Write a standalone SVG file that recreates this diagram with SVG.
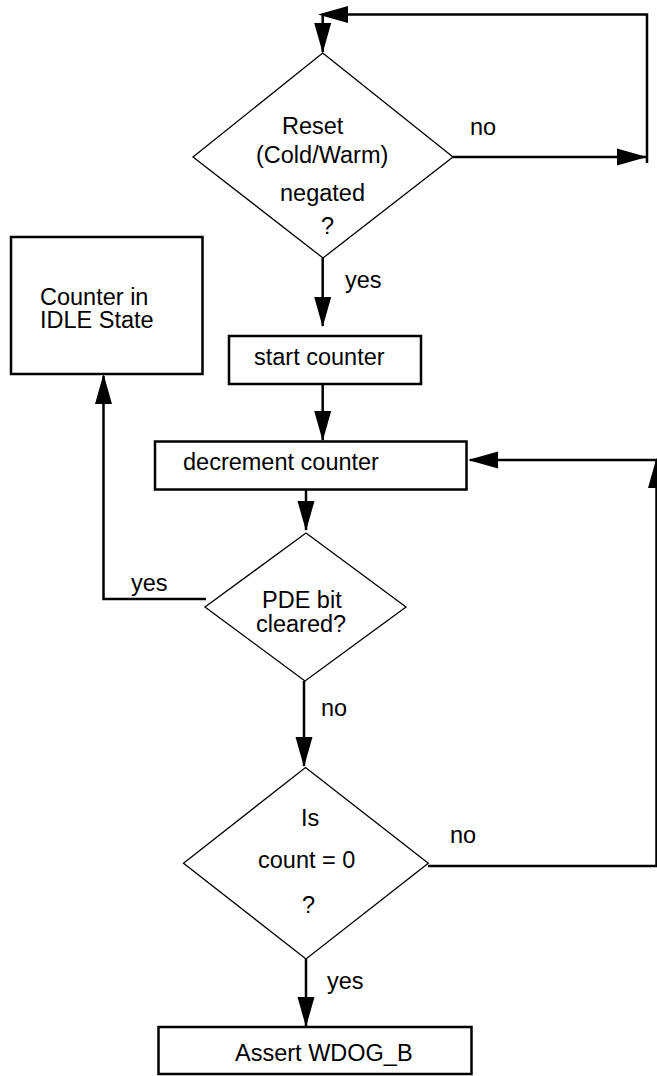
<svg xmlns="http://www.w3.org/2000/svg" width="657" height="1076" viewBox="0 0 657 1076">
  <style>
    text { font-family: "Liberation Sans", Arial, sans-serif; font-size: 23.5px; fill: #000; }
    .box { fill: #fff; stroke: #000; stroke-width: 2.5; }
    .dia { fill: #fff; stroke: #000; stroke-width: 1.3; }
    .wire { fill: none; stroke: #000; stroke-width: 2.5; }
    .head { fill: #000; stroke: none; }
  </style>
  <defs>
    <!-- filled arrowhead pointing along +x, tip at origin -->
    <polygon id="ah" class="head" points="0,0 -30,-8.5 -30,8.5"/>
  </defs>
  <rect width="657" height="1076" fill="#fff"/>

  <!-- connectors -->
  <g id="connectors">
    <!-- reset not negated: loop back to the top -->
    <polyline class="wire" points="453,157 647,157"/>
    <use href="#ah" transform="translate(647,157)"/>
    <polyline class="wire" points="647,163 647,14.5 322,14.5"/>
    <use href="#ah" transform="translate(318,14.5) rotate(180)"/>
    <polyline class="wire" points="322.7,14.5 322.7,52"/>
    <use href="#ah" transform="translate(322.7,53) rotate(90)"/>

    <!-- yes: start counter -->
    <polyline class="wire" points="322.7,258 322.7,326"/>
    <use href="#ah" transform="translate(322.7,327) rotate(90)"/>

    <!-- start counter to decrement -->
    <polyline class="wire" points="322.7,384 322.7,440"/>
    <use href="#ah" transform="translate(322.7,441) rotate(90)"/>

    <!-- decrement to PDE check -->
    <polyline class="wire" points="306,489 306,530"/>
    <use href="#ah" transform="translate(306,531) rotate(90)"/>

    <!-- PDE cleared: back to idle -->
    <polyline class="wire" points="206,599 103.5,599 103.5,376"/>
    <use href="#ah" transform="translate(103.5,374) rotate(-90)"/>

    <!-- PDE not cleared: test count -->
    <polyline class="wire" points="304,681 304,766"/>
    <use href="#ah" transform="translate(304,767) rotate(90)"/>

    <!-- count not zero: loop to decrement -->
    <polyline class="wire" points="428,866 656.5,866 656.5,460 470,460"/>
    <use href="#ah" transform="translate(656.5,458) rotate(-90)"/>
    <use href="#ah" transform="translate(468,460) rotate(180)"/>

    <!-- count zero: assert -->
    <polyline class="wire" points="306,959 306,1026"/>
    <use href="#ah" transform="translate(306,1027) rotate(90)"/>
  </g>

  <g id="reset-check">
    <polygon class="dia" points="322.7,53 453,157 323,258 193,157"/>
    <text x="282" y="133.5">Reset</text>
    <text x="256" y="163">(Cold/Warm)</text>
    <text x="280" y="200.5">negated</text>
    <text x="321" y="234">?</text>
  </g>

  <g id="idle-state">
    <rect class="box" x="11" y="237" width="191.5" height="137"/>
    <text x="40" y="304.5">Counter in</text>
    <text x="40" y="328">IDLE State</text>
  </g>

  <g id="start-counter">
    <rect class="box" x="229" y="336" width="192" height="48"/>
    <text x="254" y="365">start counter</text>
  </g>

  <g id="decrement-counter">
    <rect class="box" x="155" y="441.5" width="311.5" height="48"/>
    <text x="183" y="470">decrement counter</text>
  </g>

  <g id="pde-check">
    <polygon class="dia" points="306,533 406,607 305,681 205,607"/>
    <text x="262" y="607.5">PDE bit</text>
    <text x="256" y="632">cleared?</text>
  </g>

  <g id="count-check">
    <polygon class="dia" points="305.5,767.5 428.3,863.3 306,959 183.5,863.3"/>
    <text x="301" y="826">Is</text>
    <text x="258" y="868">count = 0</text>
    <text x="302" y="912.5">?</text>
  </g>

  <g id="assert-wdog">
    <rect class="box" x="158.5" y="1027" width="313" height="47"/>
    <text x="235" y="1061">Assert WDOG_B</text>
  </g>

  <g id="branch-labels">
    <text x="470" y="135">no</text>
    <text x="345" y="288">yes</text>
    <text x="131" y="591">yes</text>
    <text x="321" y="715.5">no</text>
    <text x="450" y="843">no</text>
    <text x="327" y="989">yes</text>
  </g>
</svg>
